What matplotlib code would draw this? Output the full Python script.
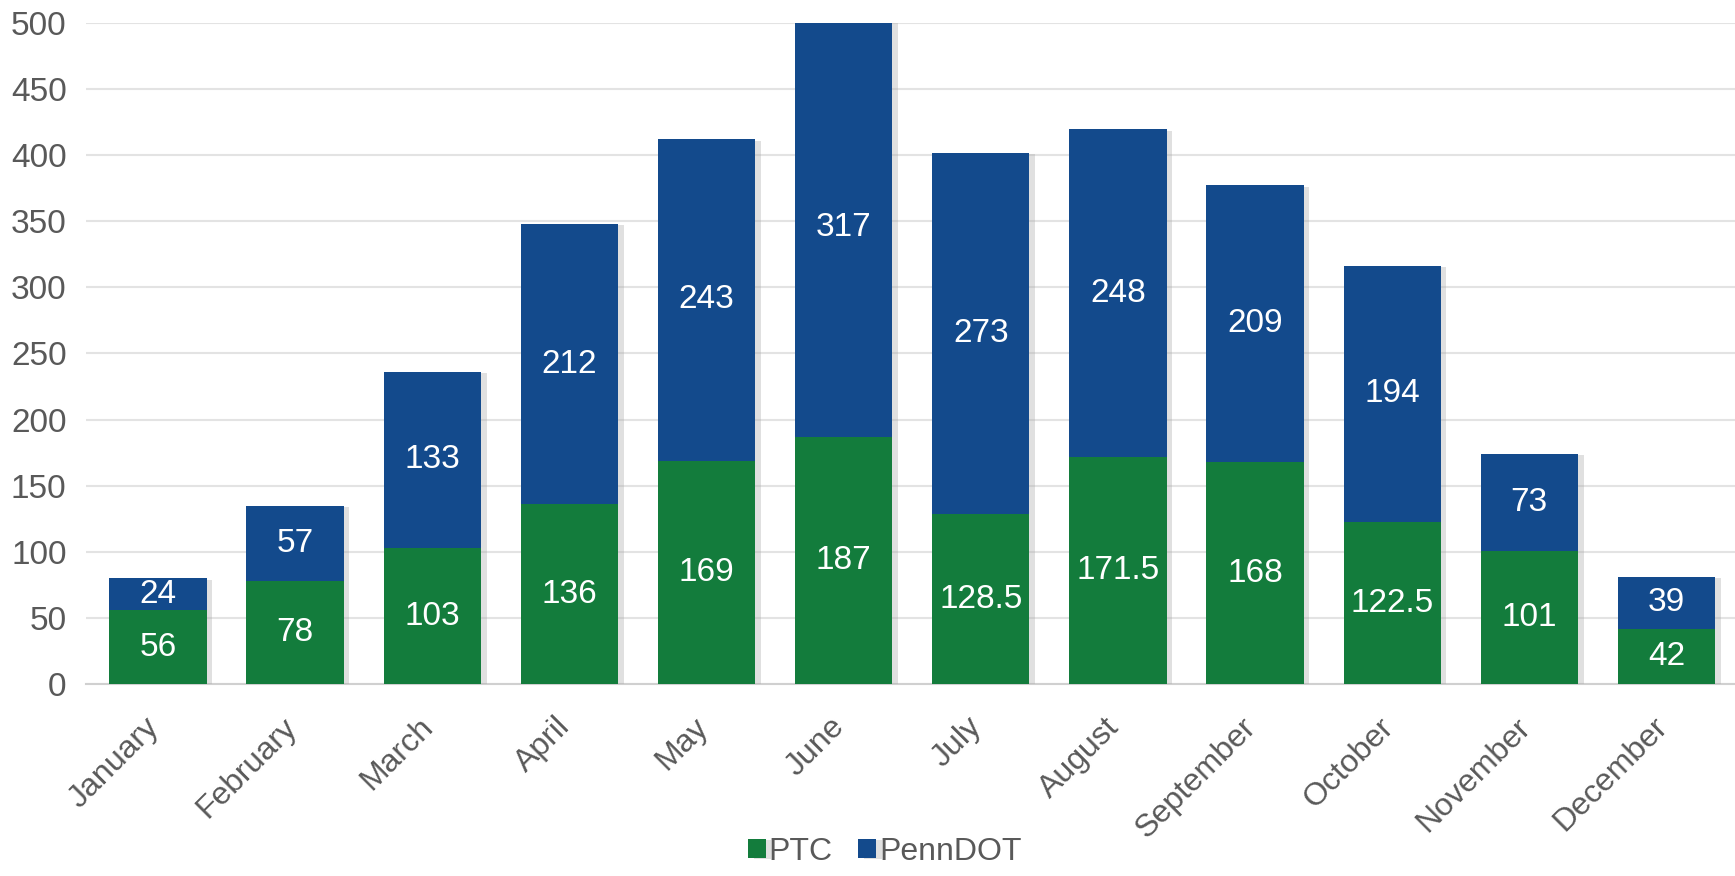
import matplotlib.pyplot as plt
import matplotlib.patheffects as pe
import matplotlib.transforms as mtrans
import numpy as np

plt.rcParams['font.family'] = ['Liberation Sans', 'DejaVu Sans']

months = ["January", "February", "March", "April", "May", "June",
          "July", "August", "September", "October", "November", "December"]
ptc = [56, 78, 103, 136, 169, 187, 128.5, 171.5, 168, 122.5, 101, 42]
penndot = [24, 57, 133, 212, 243, 317, 273, 248, 209, 194, 73, 39]

green = '#137c3c'
blue = '#134a8c'
grey = '#595959'

fig = plt.figure(figsize=(17.35, 8.76), dpi=100)
ax = fig.add_axes([0.0496, 0.219, 0.9504, 0.755])

x = np.arange(len(months))
shadow = [pe.SimplePatchShadow(offset=(4, -1), shadow_rgbFace='#a8a8a8', alpha=0.35), pe.Normal()]
b1 = ax.bar(x, ptc, width=0.71, color=green, label='PTC', zorder=3.5, path_effects=shadow)
b2 = ax.bar(x, penndot, width=0.71, bottom=ptc, color=blue, label='PennDOT', zorder=3,
            path_effects=shadow)

# labels in the middle of each segment
for i in range(len(months)):
    ax.text(x[i], ptc[i] / 2, '{:g}'.format(ptc[i]), ha='center', va='center',
            color='white', fontsize=24, zorder=5)
    ax.text(x[i], ptc[i] + penndot[i] / 2, '{:g}'.format(penndot[i]), ha='center',
            va='center', color='white', fontsize=24, zorder=5)

ax.set_xlim(-0.525, 11.5)
ax.set_ylim(0, 500)
ax.set_yticks(range(0, 501, 50))
ax.yaxis.grid(True, color='#e3e3e3', linewidth=1.5, zorder=0)
ax.set_axisbelow(True)
for s in ['top', 'right', 'left']:
    ax.spines[s].set_visible(False)
ax.spines['bottom'].set_color('#d0d0d0')
ax.spines['bottom'].set_linewidth(1.5)
ax.tick_params(axis='both', length=0, labelsize=24, labelcolor=grey)
ax.tick_params(axis='y', pad=14)
ax.set_xticks(x)
ax.set_xticklabels(months, rotation=45, ha='right', rotation_mode='anchor', fontsize=23)
ax.tick_params(axis='x', pad=20)
shift = mtrans.ScaledTranslation(-0.14, 0, fig.dpi_scale_trans)
for lab in ax.get_xticklabels():
    lab.set_transform(lab.get_transform() + shift)

fig.legend(handles=[b1, b2], loc='lower center', bbox_to_anchor=(0.51, -0.022), ncol=2,
           frameon=False, fontsize=23, handlelength=0.55, handleheight=0.55,
           handletextpad=0.1, columnspacing=0.8, labelcolor=grey)

fig.savefig('out.png', dpi=100)
